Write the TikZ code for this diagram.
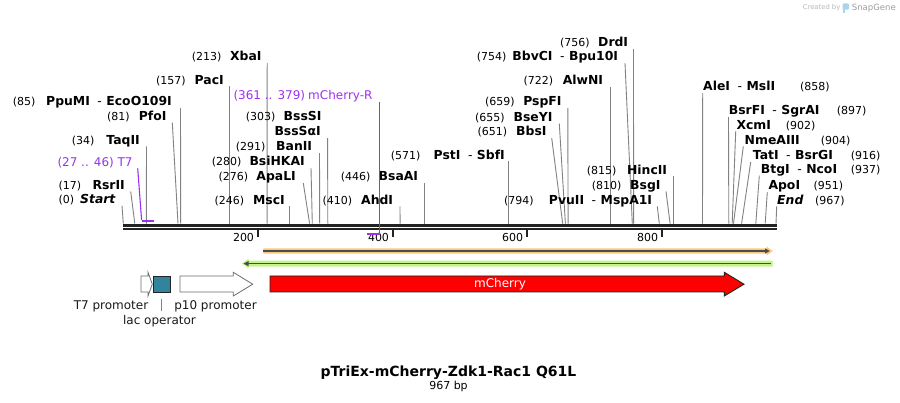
\documentclass[tikz,border=0pt]{standalone}
\usepackage{fontspec}
\setmainfont{DejaVu Sans}
\definecolor{cutgray}{RGB}{130,130,130}
\definecolor{primerc}{RGB}{155,50,240}
\definecolor{bbc}{RGB}{35,35,35}
\definecolor{orangec}{RGB}{250,200,125}
\definecolor{greenc}{RGB}{196,242,140}
\definecolor{darkl}{RGB}{75,75,75}
\definecolor{lacc}{RGB}{49,132,155}
\definecolor{promc}{RGB}{110,110,110}
\definecolor{credc}{RGB}{185,185,185}
\definecolor{iconc}{RGB}{170,212,236}
\newcommand\dsh{\hspace{7.5pt}\textmd{-}\hspace{4.5pt}}
\tikzset{
  numlbl/.style={inner sep=0pt, font=\fontsize{11}{13}\selectfont, text=black},
  enzlbl/.style={inner sep=0pt, font=\fontsize{12.4}{14}\selectfont\bfseries, text=black},
  primlbl/.style={inner sep=0pt, font=\fontsize{12}{14}\selectfont, text=primerc},
  cutline/.style={draw=cutgray, line width=0.9pt},
  primline/.style={draw=primerc, line width=1.1pt},
  featlbl/.style={inner sep=0pt, font=\fontsize{12}{14}\selectfont, text=black!90},
  bbline/.style={draw=bbc},
}
\begin{document}
\begin{tikzpicture}[x=1pt,y=-1pt]
\useasboundingbox (0,0) rectangle (900,403);
\fill[white] (0,0) rectangle (900,403);

% ---------- backbone ----------
\coordinate (b1s) at (123,225.2); \coordinate (b1e) at (777,225.2);
\coordinate (b2s) at (123,229.2); \coordinate (b2e) at (777,229.2);
\draw[bbline, line width=3pt] (b1s) -- (b1e);
\draw[bbline, line width=2.3pt] (b2s) -- (b2e);

% ---------- ticks ----------
\foreach \t/\tx in {200/257.7,400/392.7,600/526.7,800/661.7}{
  \coordinate (tk\t a) at (\tx,230.5);
  \coordinate (tk\t b) at (\tx,237.5);
  \draw[bbline, line width=2pt] (tk\t a) -- (tk\t b);
  \node[numlbl, anchor=base east] (tl\t) at (\tx-3.5,241.2) {\t};
}

% ---------- enzyme labels on the left of their lines ----------
\foreach \n/\num/\nx/\lab/\tx/\ty/\lx/\sx in {
  ppumi/(85)/12.7/PpuMI\dsh EcoO109I/172/101.7/180.5/180.7,
  pfoi/(81)/107/PfoI/166.7/116.2/172.3/178.0,
  taqii/(34)/71.7/TaqII/140/140/146.5/146.3,
  rsrii/(17)/58.3/RsrII/125/185/130.7/134.8,
  start/(0)/58.3/\textit{Start}/116/199.3/122/123.3,
  xbai/(213)/191.7/XbaI/261.7/56.7/267.2/267.1,
  paci/(157)/156/PacI/224/80/229.3/229.3,
  bsssai/{}/0/BssSαI/321/131.7/327.6/327.8,
  banii/(291)/235.7/BanII/312.3/146.7/319.5/319.7,
  bsihkai/(280)/211.7/BsiHKAI/305/161.7/311/312.3,
  apali/(276)/218.3/ApaLI/296/176.7/303.3/309.6,
  msci/(246)/214.3/MscI/285/200/289.4/289.4,
  ahdi/(410)/322.3/AhdI/393.3/200/400/400.1,
  bsaai/(446)/340.7/BsaAI/418.3/176.7/424.4/424.4,
  psti/(571)/390.7/PstI\dsh SbfI/505/155/508.7/508.7,
  drdi/(756)/560/DrdI/628.3/42.7/633.5/633.6,
  bbvci/(754)/476.7/BbvCI\dsh Bpu10I/618.3/56.7/625/632.3,
  alwni/(722)/523.3/AlwNI/603.3/80.7/610.7/610.7,
  pspfi/(659)/485/PspFI/561.7/101.7/567.8/568.1,
  bseyi/(655)/475/BseYI/552.7/117.3/559.3/565.4,
  bbsi/(651)/477.3/BbsI/546.7/131.7/551.7/562.7,
  hincii/(815)/586.7/HincII/667.3/170/673.4/673.4,
  bsgi/(810)/591.7/BsgI/660.7/185/666/670.1,
  pvuii/(794)/504/PvuII\dsh MspA1I/652.3/200/657.3/659.3%
}{
  \node[numlbl, anchor=base west] (\n-num) at (\nx,\ty+4.3) {\num};
  \node[enzlbl, anchor=base east] (\n) at (\tx,\ty+4.3) {\lab};
  \coordinate (\n-top) at (\lx,\ty+6.4);
  \coordinate (\n-site) at (\sx,223.6);
  \draw[cutline] (\n-top) -- (\n-site);
}
% BssSI shares the 303 site line
\node[numlbl, anchor=base west] (bsssi-num) at (245.7,121) {(303)};
\node[enzlbl, anchor=base east] (bsssi) at (321.7,121) {BssSI};

% ---------- enzyme labels on the right of their lines ----------
\foreach \n/\num/\nx/\lab/\tx/\ty/\lx/\sx in {
  alei/(858)/800/AleI\dsh MslI/703/86.7/702.7/702.5,
  bsrfi/(897)/836.7/BsrFI\dsh SgrAI/728.7/110.7/728.5/728.8,
  xcmi/(902)/785.7/XcmI/736.3/125/735.7/732.2,
  nmeaiii/(904)/820.7/NmeAIII/744.5/140/743.3/733.5,
  tati/(916)/850.7/TatI\dsh BsrGI/752.7/155.7/750.7/741.6,
  btgi/(937)/850.7/BtgI\dsh NcoI/760.7/169.3/759.3/755.8,
  apoi/(951)/813.3/ApoI/768.3/185.7/767.3/765.2,
  endl/(967)/815/\textit{End}/777/200/776.7/776%
}{
  \node[numlbl, anchor=base west] (\n-num) at (\nx,\ty+4.3) {\num};
  \node[enzlbl, anchor=base west] (\n) at (\tx,\ty+4.3) {\lab};
  \coordinate (\n-top) at (\lx,\ty+6.4);
  \coordinate (\n-site) at (\sx,223.6);
  \draw[cutline] (\n-top) -- (\n-site);
}

% ---------- primers ----------
\node[primlbl, anchor=base west] (t7p-num) at (57.3,166.3) {(27 .. 46)};
\node[primlbl, anchor=base east] (t7p) at (132.7,166.3) {T7};
\coordinate (t7p-top) at (137.7,168.3);
\coordinate (t7p-site) at (141.6,220);
\coordinate (t7p-a) at (141.5,220.7);
\coordinate (t7p-b) at (154.4,220.7);
\draw[primline] (t7p-top) -- (t7p-site);
\draw[primerc, line width=2pt] (t7p-a) -- (t7p-b);

\node[primlbl, anchor=base west] (mchr-num) at (233.3,99.6) {(361 .. 379)};
\node[primlbl, anchor=base east] (mchr) at (372.7,99.6) {mCherry-R};
\coordinate (mchr-top) at (379.3,101.6);
\coordinate (mchr-site) at (379.3,233);
\coordinate (mchr-a) at (367,233.8);
\coordinate (mchr-b) at (379.9,233.8);
\draw[primline] (mchr-top) -- (mchr-site);
\draw[primerc, line width=2pt] (mchr-a) -- (mchr-b);

% ---------- orange feature (forward) ----------
\fill[orangec] (263.3,248.3) -- (766.5,248.3) -- (766.5,246.6) -- (772.7,251)
  -- (766.5,255.4) -- (766.5,253.7) -- (263.3,253.7) -- cycle;
\coordinate (orA) at (263.3,251); \coordinate (orB) at (765.5,251);
\draw[darkl, line width=1.7pt] (orA) -- (orB);
\fill[darkl] (765,248.4) -- (769.8,251) -- (765,253.6) -- cycle;

% ---------- green feature (reverse) ----------
\fill[greenc] (241.7,263.6) -- (248.5,258.8) -- (248.5,260.7) -- (772.7,260.7)
  -- (772.7,266.6) -- (248.5,266.6) -- (248.5,268.4) -- cycle;
\coordinate (grA) at (247,263.6); \coordinate (grB) at (770.7,263.6);
\draw[darkl, line width=1.7pt] (grA) -- (grB);
\fill[darkl] (243.5,263.6) -- (248.5,261) -- (248.5,266.2) -- cycle;

% ---------- feature row ----------
\draw[promc, fill=white, line width=0.8pt] (141,276) -- (148,276) -- (148,272.3)
  -- (152.3,284.2) -- (148,296) -- (148,292) -- (141,292) -- cycle;
\draw[bbc, fill=lacc, line width=0.9pt] (153.3,276) rectangle (170.7,292);
\draw[promc, fill=white, line width=0.8pt] (180,276) -- (233.3,276) -- (233.3,272.3)
  -- (252.7,284.2) -- (233.3,296) -- (233.3,292) -- (180,292) -- cycle;
\draw[bbc, fill=red, line width=0.9pt] (270,276) -- (724.3,276) -- (724.3,272.3)
  -- (744,284.2) -- (724.3,296) -- (724.3,292) -- (270,292) -- cycle;
\node[featlbl, text=white] (mcherry) at (500,284.2) {mCherry};

\node[featlbl, anchor=base] (t7prom) at (111,309.3) {T7 promoter};
\node[featlbl, anchor=base] (p10prom) at (215.5,309.3) {p10 promoter};
\node[featlbl, anchor=base] (lacop) at (159.5,325) {lac operator};
\coordinate (lacA) at (161.7,299.3); \coordinate (lacB) at (161.7,310.7);
\draw[cutgray, line width=0.8pt] (lacA) -- (lacB);

% ---------- title ----------
\node[inner sep=0pt, anchor=base, font=\fontsize{14}{16}\selectfont\bfseries] (title)
  at (448.5,377) {pTriEx-mCherry-Zdk1-Rac1 Q61L};
\node[inner sep=0pt, anchor=base, font=\fontsize{11}{13}\selectfont] (size)
  at (448.5,390) {967 bp};

% ---------- credit ----------
\node[inner sep=0pt, anchor=base west, font=\fontsize{6.8}{8}\selectfont, text=credc]
  (credit) at (802.7,10) {Created by};
\fill[iconc, rounded corners=1.2pt] (842.6,3.4) rectangle (849.2,9.6);
\fill[iconc] (842.6,7) rectangle (845.2,13.2);
\node[inner sep=0pt, anchor=base west, font=\fontsize{8.5}{10}\selectfont, text=credc!85!black]
  (sg) at (851.7,10.3) {SnapGene};
\end{tikzpicture}
\end{document}
